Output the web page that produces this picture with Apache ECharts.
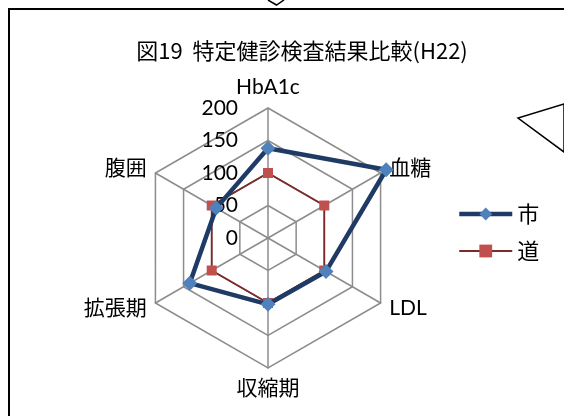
<!DOCTYPE html>
<html>
<head>
<meta charset="utf-8">
<script src="https://cdn.jsdelivr.net/npm/echarts@6/dist/echarts.min.js"></script>
<style>
  html, body { margin: 0; padding: 0; background: #fff; }
  #chart { width: 564px; height: 416px; }
</style>
</head>
<body>
<div id="chart"></div>
<script>
// 健診項目（上から時計回り）
const categories = ['HbA1c', '血糖', 'LDL', '収縮期', '拡張期', '腹囲'];
// 市の値（道を100とした比較）
const cityValues = [138, 210, 103, 102, 139, 92];
// 道の値
const prefValues = [100, 100, 100, 100, 100, 100];
// 目盛
const axisMin = 0;
const axisMax = 200;
const tickStep = 50;

const latin = 'Lato, "Noto Sans CJK JP", sans-serif';
const cjk = '"Noto Sans CJK JP", sans-serif';

const chart = echarts.init(document.getElementById('chart'), null, { renderer: 'canvas' });

// ECharts の radar は反時計回りに並ぶので、先頭以外を逆順にして時計回りにする
const order = [0].concat(categories.slice(1).map((_, i) => categories.length - 1 - i));
const clockwise = arr => order.map(i => arr[i]);

const indicators = clockwise(categories).map((name, i) => {
  const ind = { name: name, min: axisMin, max: axisMax };
  if (i === 0) {
    ind.axisLabel = {
      show: true,
      color: '#000',
      fontSize: 21,
      fontFamily: latin,
      margin: 30
    };
  }
  return ind;
});

const citySeriesStyle = {
  symbol: 'diamond',
  lineStyle: { color: '#1f3a64', width: 4.5 },
  itemStyle: { color: '#4f81bd' }
};
const prefSeriesStyle = {
  symbol: 'rect',
  lineStyle: { color: '#7b2a28', width: 1.8 },
  itemStyle: { color: '#c0504d' }
};

chart.setOption({
  backgroundColor: '#fff',
  animation: false,
  title: {
    text: '図19  特定健診検査結果比較(H22)',
    left: 297,
    textAlign: 'center',
    top: 35,
    textStyle: { fontFamily: cjk, fontSize: 22, fontWeight: 'normal', color: '#000' }
  },
  legend: {
    orient: 'vertical',
    left: 452,
    top: 198,
    itemWidth: 53,
    itemHeight: 16,
    itemGap: 15,
    textStyle: { fontFamily: cjk, fontSize: 22, color: '#000' },
    data: [
      { name: '市', lineStyle: { width: 4.5 } },
      { name: '道', lineStyle: { width: 1.8 } }
    ]
  },
  // 凡例の線＋マーカー表示用（データなし）
  grid: { show: false, left: 0, top: 0, width: 1, height: 1 },
  xAxis: { show: false, type: 'category', data: [] },
  yAxis: { show: false, type: 'value' },
  radar: {
    center: [268, 238],
    radius: 130,
    shape: 'polygon',
    splitNumber: (axisMax - axisMin) / tickStep,
    startAngle: 90,
    indicator: indicators,
    axisName: { color: '#000', fontFamily: latin, fontSize: 21 },
    nameGap: 10,
    axisLine: { lineStyle: { color: '#8c8c8c', width: 1.5 } },
    splitLine: { lineStyle: { color: '#8c8c8c', width: 1.5 } },
    splitArea: { show: false },
    axisLabel: { show: false }
  },
  series: [
    Object.assign({ name: '市', type: 'line', data: [], symbolSize: 14 }, citySeriesStyle),
    Object.assign({ name: '道', type: 'line', data: [], symbolSize: 10 }, prefSeriesStyle),
    Object.assign({
      name: '道',
      type: 'radar',
      z: 2,
      symbolSize: 10,
      data: [{ value: clockwise(prefValues), name: '道' }]
    }, prefSeriesStyle),
    Object.assign({
      name: '市',
      type: 'radar',
      z: 3,
      symbolSize: 15,
      data: [{ value: clockwise(cityValues), name: '市' }]
    }, citySeriesStyle)
  ],
  graphic: [
    { type: 'rect', shape: { x: 9, y: 9, width: 600, height: 500 }, style: { fill: 'none', stroke: '#000', lineWidth: 2 }, z: 0 },
    { type: 'polyline', shape: { points: [[268, 0], [276.5, 5], [284, 0]] }, style: { fill: '#fff', stroke: '#000', lineWidth: 1.5 } },
    { type: 'polygon', shape: { points: [[564, 104], [518, 118], [564, 152]] }, style: { fill: '#fff', stroke: '#000', lineWidth: 1.5 }, z: 10 }
  ]
});
</script>
</body>
</html>
